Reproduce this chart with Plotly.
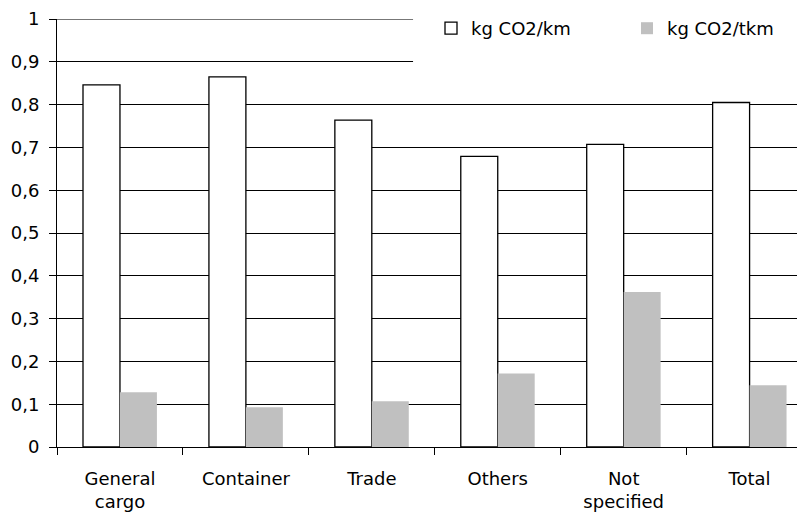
import plotly.graph_objects as go

categories = ["General<br>cargo", "Container", "Trade", "Others", "Not<br>specified", "Total"]
kg_co2_km = [0.846, 0.865, 0.764, 0.679, 0.707, 0.805]
kg_co2_tkm = [0.128, 0.093, 0.107, 0.172, 0.362, 0.144]
series_names = ["kg CO2/km", "kg CO2/tkm"]
y_tick_values = [0, 0.1, 0.2, 0.3, 0.4, 0.5, 0.6, 0.7, 0.8, 0.9, 1.0]
y_tick_labels = ["0", "0,1", "0,2", "0,3", "0,4", "0,5", "0,6", "0,7", "0,8", "0,9", "1"]

FONT = "DejaVu Sans, Liberation Sans, Arial, sans-serif"
FS = 18

fig = go.Figure()
fig.add_trace(go.Bar(
    x=categories, y=kg_co2_km, name=series_names[0], legend="legend",
    marker=dict(color="white", line=dict(color="black", width=1.3)),
))
fig.add_trace(go.Bar(
    x=categories, y=kg_co2_tkm, name=series_names[1], legend="legend2",
    marker=dict(color="#c0c0c0", line=dict(color="#c0c0c0", width=0)),
))

# top gridline (plotly skips the gridline on the plot edge)
fig.add_shape(type="line", xref="paper", yref="y",
              x0=0, x1=1, y0=y_tick_values[-1], y1=y_tick_values[-1],
              line=dict(color="black", width=1), layer="above")
# white box behind the legend hiding the gridlines
fig.add_shape(type="rect", xref="paper", yref="paper",
              x0=0.476, x1=1.01, y0=0.87, y1=1.05,
              fillcolor="white", line=dict(width=0), layer="above")

leg_common = dict(orientation="h", yanchor="top", xanchor="left",
                  bgcolor="rgba(0,0,0,0)", font=dict(size=FS, family=FONT),
                  borderwidth=0)

# page body has an 8px margin, so the figure is sized to fit 805x520
fig.update_layout(
    width=797, height=512,
    margin=dict(l=49, r=0, t=8, b=73),
    paper_bgcolor="white", plot_bgcolor="white",
    barmode="group", bargap=0.413, bargroupgap=0,
    font=dict(family=FONT, size=FS, color="black"),
    showlegend=True,
    legend=dict(x=0.5, y=1.021, **leg_common),
    legend2=dict(x=0.762, y=1.021, **leg_common),
    xaxis=dict(
        range=[-0.5, 5.44], showgrid=False, showline=True, linecolor="black", linewidth=1,
        ticks="outside", ticklen=7, tickcolor="black", tickson="boundaries",
        tickfont=dict(size=FS), tickangle=0, zeroline=False, ticklabelstandoff=15,
    ),
    yaxis=dict(
        range=[0, 1.0001], tickvals=y_tick_values, ticktext=y_tick_labels,
        showgrid=True, gridcolor="black", gridwidth=1,
        showline=True, linecolor="black", linewidth=1,
        ticks="outside", ticklen=7, tickcolor="black",
        tickfont=dict(size=FS), zeroline=False, ticklabelstandoff=6,
        ticklabeloverflow="allow",
    ),
)

fig.write_html("out.html")
